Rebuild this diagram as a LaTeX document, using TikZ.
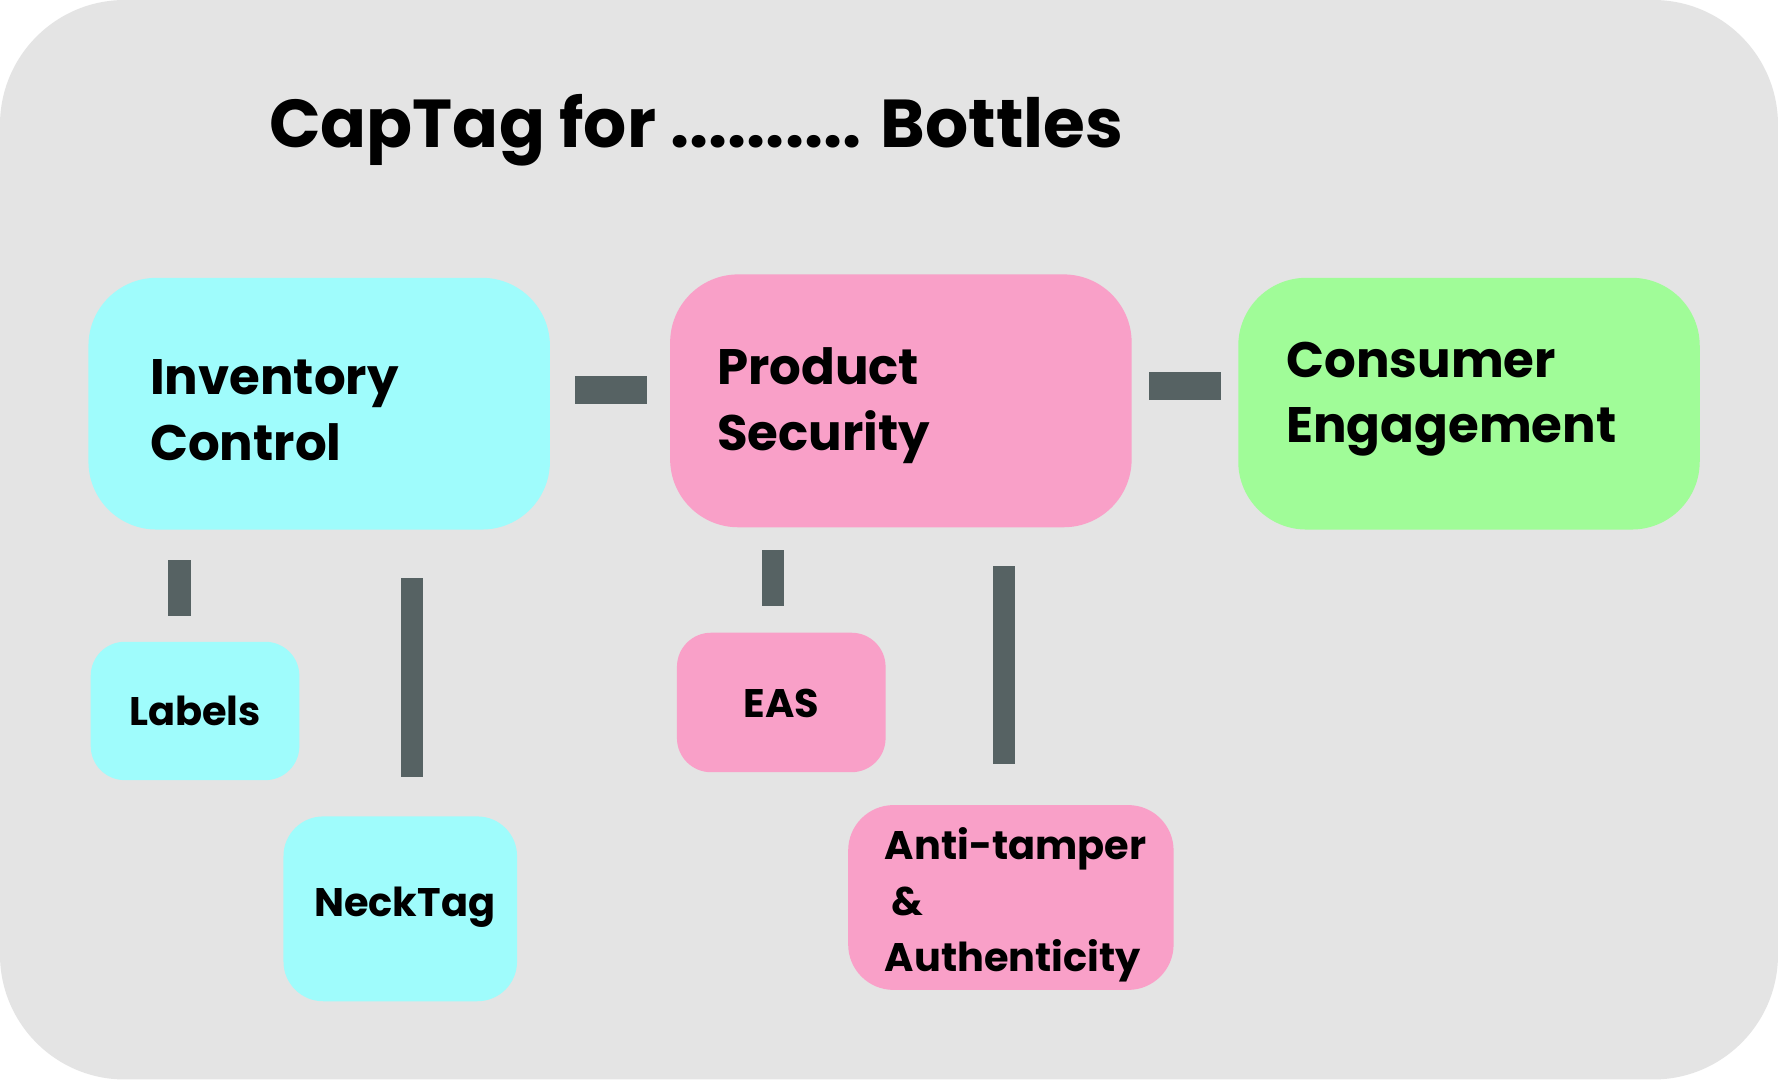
\documentclass[tikz,border=0pt]{standalone}
\usepackage{fontspec}
\setmainfont{Poppins}
\begin{document}
\begin{tikzpicture}[x=0.01cm,y=-0.01cm,
  box/.style={rounded corners=#1,inner sep=0pt},
  txt/.style={font=\bfseries\fontsize{12.5pt}{16.5pt}\selectfont,align=left,anchor=west},
  stxt/.style={font=\bfseries\fontsize{10pt}{14pt}\selectfont,align=left}]
\definecolor{bg}{HTML}{E4E4E4}
\definecolor{cy}{HTML}{9FFCFC}
\definecolor{pk}{HTML}{F9A0C8}
\definecolor{gr}{HTML}{A0FC98}
\definecolor{bargray}{HTML}{566263}
\useasboundingbox (0,0) rectangle (1568,952);
\fill[white] (0,0) rectangle (1568,952);
\fill[bg,rounded corners=1.1cm] (0,0) rectangle (1568,952);
\node[font=\bfseries\fontsize{17pt}{21pt}\selectfont,anchor=west] (title) at (225,115) {CapTag for .......... Bottles};
\fill[cy,box=0.6cm] (78,245) rectangle (485,467);
\fill[pk,box=0.6cm] (591,242) rectangle (998,465);
\fill[gr,box=0.6cm] (1092,245) rectangle (1499,467);
\fill[cy,box=0.3cm] (80,566) rectangle (264,688);
\fill[cy,box=0.35cm] (250,720) rectangle (456,883);
\fill[pk,box=0.3cm] (597,558) rectangle (781,681);
\fill[pk,box=0.4cm] (748,710) rectangle (1035,873);
\node[txt] (inv) at (120,362) {Inventory\\Control};
\node[txt] (ps) at (620,358) {Product\\Security};
\node[txt] (ce) at (1122,352) {Consumer\\Engagement};
\node[stxt] (lab) at (172,627) {Labels};
\node[stxt] (neck) at (357,800) {NeckTag};
\node[stxt] (eas) at (689,620) {EAS};
\node[stxt,anchor=west] (anti) at (768,798) {Anti-tamper\\\,\&\\Authenticity};
\fill[bargray] (507,332) rectangle (571,356);
\fill[bargray] (1013,328) rectangle (1077,353);
\fill[bargray] (148,494) rectangle (168,543);
\fill[bargray] (354,510) rectangle (373,685);
\fill[bargray] (672,485) rectangle (691,534);
\fill[bargray] (876,499) rectangle (895,674);
\end{tikzpicture}
\end{document}
